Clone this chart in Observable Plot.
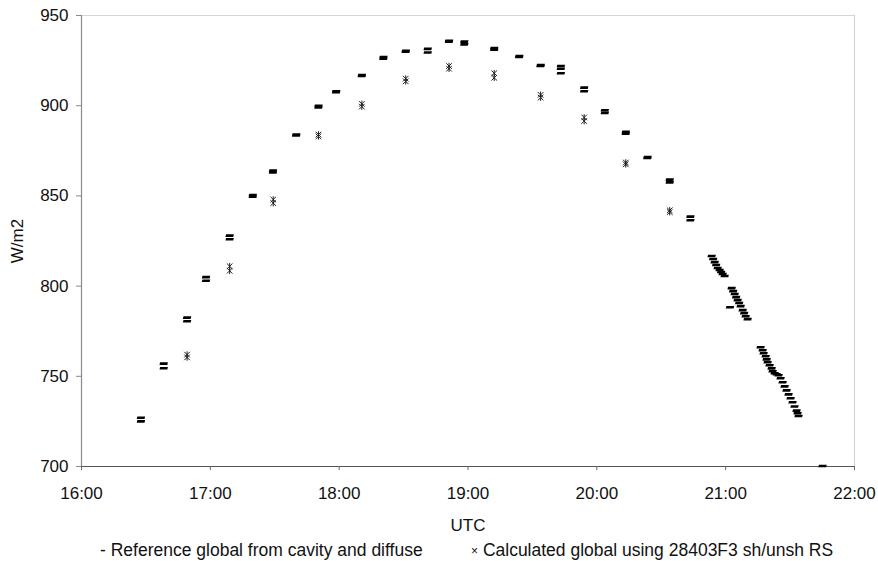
<!DOCTYPE html>
<html>
<head>
<meta charset="utf-8">
<script src="https://cdn.jsdelivr.net/npm/d3@7"></script>
<script src="https://cdn.jsdelivr.net/npm/@observablehq/plot@0.6"></script>
<style>
  html, body { margin: 0; padding: 0; background: #fff; }
  body { width: 878px; height: 561px; overflow: hidden; font-family: "Liberation Sans", Arial, sans-serif; }
  #legend { position: relative; width: 878px; height: 26px; font-size: 17.5px; color: #111; }
  #legend span { position: absolute; top: 5px; white-space: nowrap; }
</style>
</head>
<body>
<div id="chart"></div>
<div id="legend">
  <span style="left:100px">- Reference global from cavity and diffuse</span>
  <span style="left:471px"><span style="position:static;font-size:12px;vertical-align:1px">×</span> Calculated global using 28403F3 sh/unsh RS</span>
</div>
<script>
// Reference global from cavity and diffuse
const refTimes = [
  "16:27:40","16:27:40","16:38:17","16:38:17","16:49:10","16:49:10","16:58:00","16:58:00",
  "17:09:00","17:09:00","17:19:46","17:19:46","17:29:10","17:29:10","17:40:00","17:40:00",
  "17:50:22","17:50:22","17:58:36","17:58:36","18:10:33","18:10:33","18:20:36","18:20:36",
  "18:31:00","18:31:00","18:41:15","18:41:15","18:51:10","18:51:10","18:58:17","18:58:17",
  "19:12:13","19:12:13","19:23:52","19:23:52","19:33:49","19:33:49","19:43:15","19:43:15","19:43:15",
  "19:54:06","19:54:06","20:03:43","20:03:43","20:13:29","20:13:29","20:23:35","20:23:35",
  "20:33:57","20:33:57","20:43:35","20:43:35",
  "20:53:29","20:54:11","20:54:53","20:55:34","20:56:16","20:57:12","20:57:54","20:58:36","20:59:32",
  "21:02:00","21:02:47","21:03:29","21:04:11","21:04:53","21:05:35","21:06:17","21:06:59","21:07:55","21:08:37","21:09:19","21:10:14",
  "21:16:17","21:17:13","21:17:41","21:18:37","21:19:05","21:19:32","21:20:28","21:21:24","21:21:52","21:22:48","21:23:44","21:24:40",
  "21:25:35","21:26:31","21:27:27","21:28:22","21:29:18","21:30:14","21:31:09","21:32:05","21:33:01","21:33:29","21:33:57",
  "21:45:07"
];
const refValues = [
  727,725,757,754.5,782.5,780.5,805,803,
  828,826,850.5,849.5,864,863,884,883.5,
  900,899,908,907.5,917,916.5,927,926,
  930.5,930,931.5,929.5,936,935.5,935.5,934,
  932,931,927.5,927,922.5,922,922,920.5,918,
  910,908,897.5,896,885.5,884.5,871.5,871,
  859,857.5,838.5,836.5,
  816.7,815,813.3,811.7,810,808.9,807.8,806.7,805.6,
  788.3,798.9,797.2,795.6,793.9,792.2,790.6,788.9,786.7,785,783.3,781.7,
  766.1,764.4,762.8,761.1,759.4,757.8,756.1,754.4,752.8,751.7,751.1,750.6,
  748.9,746.7,744.4,742.2,740,737.8,735.6,733.3,731,729.5,728,
  700.3
];
// Calculated global using 28403F3 sh/unsh RS
const calcTimes = [
  "16:49:10","16:49:10","17:09:00","17:09:00","17:29:18","17:29:18","17:50:22","17:50:22",
  "18:10:33","18:10:33","18:31:00","18:31:00","18:51:10","18:51:10","19:12:13","19:12:13",
  "19:33:49","19:33:49","19:54:06","19:54:06","20:13:29","20:13:29","20:33:57","20:33:57"
];
const calcValues = [
  762,760.5,811,808.5,848,846,884,883,
  901,899.5,915,913.5,922,920.5,918,915.5,
  906,904.5,893.5,891.5,868.5,867.5,842,841
];
const xTickLabels = ["16:00","17:00","18:00","19:00","20:00","21:00","22:00"];
const yTicks = [700,750,800,850,900,950];

const parseT = d3.utcParse("%H:%M:%S");
const parseHM = d3.utcParse("%H:%M");
const fmt = d3.utcFormat("%H:%M");
const ref = refTimes.map((t, i) => ({t: parseT(t), v: refValues[i]}));
const calc = calcTimes.map((t, i) => ({t: parseT(t), v: calcValues[i]}));
const xTicks = xTickLabels.map(parseHM);

const dashSymbol = {
  draw(ctx) {
    ctx.moveTo(-3.6, -1.3); ctx.lineTo(4.2, -1.3); ctx.lineTo(3.6, 1.3); ctx.lineTo(-4.2, 1.3); ctx.closePath();
  }
};
const starSymbol = {
  draw(ctx) {
    const s = 2.8;
    ctx.moveTo(-s, -s); ctx.lineTo(s, s);
    ctx.moveTo(s, -s); ctx.lineTo(-s, s);
    ctx.moveTo(0, -s - 0.5); ctx.lineTo(0, s + 0.5);
  }
};

const chart = Plot.plot({
  width: 878,
  height: 535,
  marginLeft: 81,
  marginRight: 24,
  marginTop: 15,
  marginBottom: 69,
  style: {fontFamily: '"Liberation Sans", Arial, sans-serif', fontSize: "17px", color: "#111", background: "#fff"},
  x: {type: "utc", domain: [xTicks[0], xTicks[xTicks.length - 1]]},
  y: {domain: [700, 950]},
  marks: [
    Plot.ruleY([950], {stroke: "#d6d6d6", strokeWidth: 1}),
    Plot.ruleX([xTicks[xTicks.length - 1]], {stroke: "#cfcfcf", strokeWidth: 1}),
    Plot.ruleX([xTicks[0]], {stroke: "#8a8a8a", strokeWidth: 1.2}),
    Plot.ruleY([700], {stroke: "#555", strokeWidth: 1.2}),
    Plot.axisY({ticks: yTicks, tickSize: 5, tickPadding: 8, stroke: "#888", label: "W/m2", labelAnchor: "center", labelArrow: "none", labelOffset: 71, fontSize: 17}),
    Plot.axisX({ticks: xTicks, tickFormat: fmt, tickSize: 4, tickPadding: 16, stroke: "#666", label: "UTC", labelAnchor: "center", labelArrow: "none", labelOffset: 64, fontSize: 17}),
    Plot.dot(calc, {x: "t", y: "v", symbol: starSymbol, stroke: "#222", strokeWidth: 1, fill: "none", r: 3}),
    Plot.dot(ref, {x: "t", y: "v", symbol: dashSymbol, fill: "#000", stroke: "none", r: 3})
  ]
});
document.getElementById("chart").appendChild(chart);
</script>
</body>
</html>
